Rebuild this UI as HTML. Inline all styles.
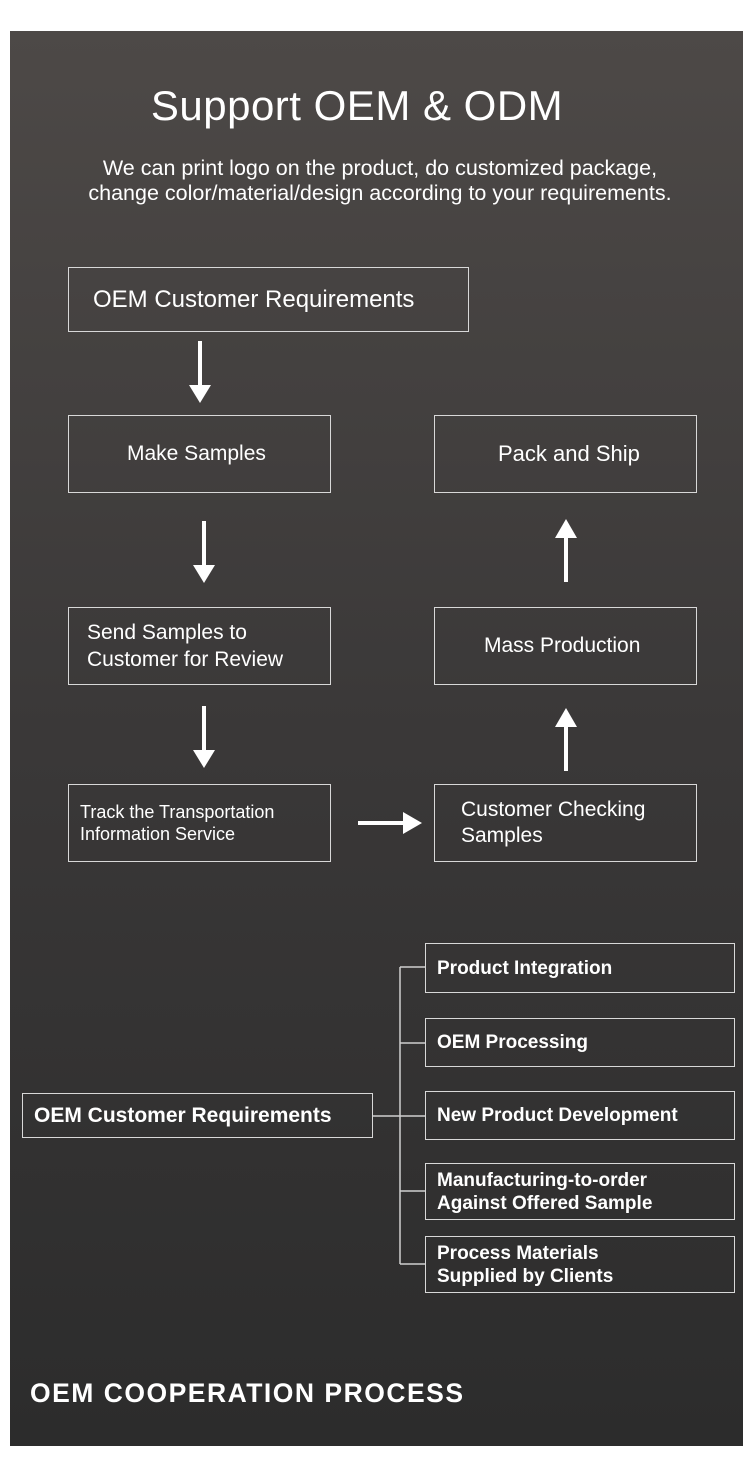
<!DOCTYPE html>
<html><head><meta charset="utf-8"><style>
body{margin:0;width:750px;height:1483px;background:#fff;position:relative;overflow:hidden;font-family:"Liberation Sans",sans-serif}
.panel{position:absolute;left:10px;top:31px;width:733px;height:1415px;background:linear-gradient(#4d4947,#3a3838 50%,#2c2c2c)}
.b{position:absolute;border:1.5px solid #d8d8d8;box-sizing:border-box;color:#fff;display:flex;align-items:center}
.t{position:absolute;color:#fff;white-space:nowrap}
.bb{font-weight:bold;font-size:19px;padding-left:11px;line-height:23px}
</style></head><body>
<div class="panel"></div>
<div class="t" style="left:-18px;width:750px;text-align:center;top:82px;font-size:42px;letter-spacing:0.5px">Support OEM &amp; ODM</div>
<div class="t" style="left:0;width:760px;text-align:center;top:156px;font-size:21.5px;line-height:25px">We can print logo on the product, do customized package,<br>change color/material/design according to your requirements.</div>

<div class="b" style="left:68px;top:267px;width:401px;height:65px;font-size:24px;padding-left:24px">OEM Customer Requirements</div>
<div class="b" style="left:68px;top:415px;width:263px;height:78px;font-size:21px;padding-left:58px">Make Samples</div>
<div class="b" style="left:434px;top:415px;width:263px;height:78px;font-size:22px;padding-left:63px">Pack and Ship</div>
<div class="b" style="left:68px;top:607px;width:263px;height:78px;font-size:21px;padding-left:18px;line-height:27px">Send Samples to<br>Customer for Review</div>
<div class="b" style="left:434px;top:607px;width:263px;height:78px;font-size:21px;padding-left:49px">Mass Production</div>
<div class="b" style="left:68px;top:784px;width:263px;height:78px;font-size:18px;padding-left:11px;line-height:22px">Track the Transportation<br>Information Service</div>
<div class="b" style="left:434px;top:784px;width:263px;height:78px;font-size:21px;padding-left:26px;line-height:26px">Customer Checking<br>Samples</div>

<svg style="position:absolute;left:0;top:0" width="750" height="1483">
<g stroke="#fff" stroke-width="4" fill="#fff">
<line x1="200" y1="341" x2="200" y2="388"/><polygon stroke="none" points="189,385 211,385 200,403"/>
<line x1="204" y1="521" x2="204" y2="568"/><polygon stroke="none" points="193,565 215,565 204,583"/>
<line x1="204" y1="706" x2="204" y2="753"/><polygon stroke="none" points="193,750 215,750 204,768"/>
<line x1="566" y1="582" x2="566" y2="535"/><polygon stroke="none" points="555,538 577,538 566,519"/>
<line x1="566" y1="771" x2="566" y2="724"/><polygon stroke="none" points="555,727 577,727 566,708"/>
<line x1="358" y1="823" x2="406" y2="823"/><polygon stroke="none" points="403,812 403,834 422,823"/>
</g>
<g stroke="#cfcfcf" stroke-width="1.5" fill="none">
<line x1="400" y1="967" x2="400" y2="1264"/>
<line x1="400" y1="967" x2="425" y2="967"/>
<line x1="400" y1="1043" x2="425" y2="1043"/>
<line x1="372" y1="1116" x2="425" y2="1116"/>
<line x1="400" y1="1191" x2="425" y2="1191"/>
<line x1="400" y1="1264" x2="425" y2="1264"/>
</g>
</svg>

<div class="b bb" style="left:22px;top:1093px;width:351px;height:45px;font-size:21px">OEM Customer Requirements</div>
<div class="b bb" style="left:425px;top:943px;width:310px;height:50px">Product Integration</div>
<div class="b bb" style="left:425px;top:1018px;width:310px;height:49px">OEM Processing</div>
<div class="b bb" style="left:425px;top:1091px;width:310px;height:49px">New Product Development</div>
<div class="b bb" style="left:425px;top:1163px;width:310px;height:57px">Manufacturing-to-order<br>Against Offered Sample</div>
<div class="b bb" style="left:425px;top:1236px;width:310px;height:57px">Process Materials<br>Supplied by Clients</div>

<div class="t" style="left:30px;top:1378px;font-size:26.5px;font-weight:bold;letter-spacing:1.5px">OEM COOPERATION PROCESS</div>
</body></html>
